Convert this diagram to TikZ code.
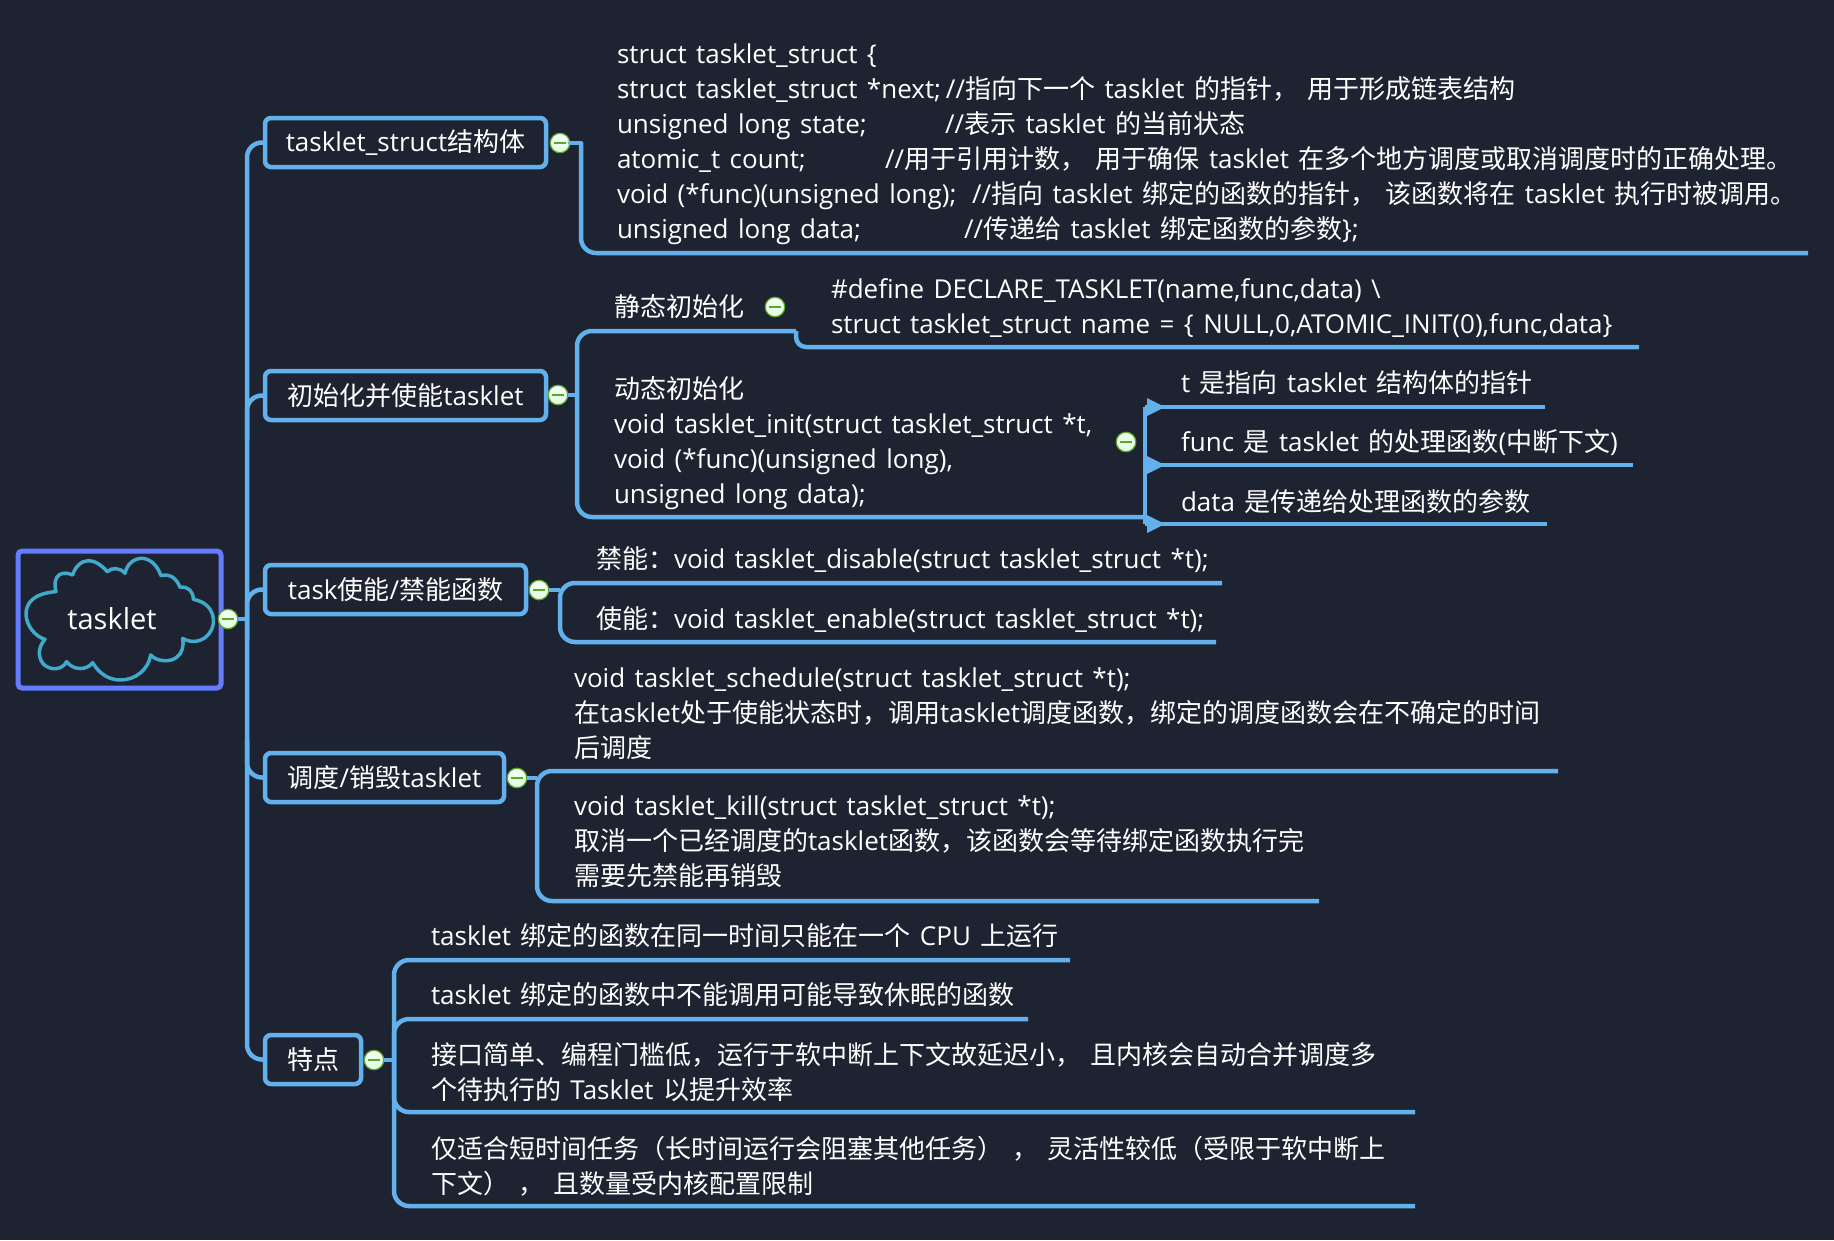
\documentclass[tikz,border=0pt]{standalone}
\usepackage{fontspec}
\setmainfont[WordSpace=1.4]{Open Sans}
\newfontfamily\cjkf{Noto Sans CJK SC}
\usetikzlibrary{arrows.meta}
\makeatletter
\XeTeXinterchartokenstate=1
\newXeTeXintercharclass\cjkclass
\count@="3000
\loop\ifnum\count@<"3020 \XeTeXcharclass\count@=\cjkclass \advance\count@ by 1 \repeat
\count@="4E00
\loop\ifnum\count@<"A000 \XeTeXcharclass\count@=\cjkclass \advance\count@ by 1 \repeat
\count@="FF00
\loop\ifnum\count@<"FF60 \XeTeXcharclass\count@=\cjkclass \advance\count@ by 1 \repeat
\makeatother
\XeTeXinterchartoks 0 \cjkclass={\cjkf}
\XeTeXinterchartoks 4095 \cjkclass={\cjkf}
\XeTeXinterchartoks \cjkclass 0={\normalfont}
\XeTeXinterchartoks \cjkclass 4095={\normalfont}
\definecolor{bgc}{HTML}{1D2330}
\definecolor{linec}{HTML}{63B1EC}
\definecolor{rootc}{HTML}{647CFF}
\definecolor{cloudc}{HTML}{41A9C9}
\definecolor{greenc}{HTML}{5EA52A}
\newcommand{\tab}[2]{\makebox[#1pt][l]{#2}}
\tikzset{
  x=1pt,y=-1pt,
  every node/.style={inner sep=0pt,outer sep=0pt,text=white},
  txt/.style={font=\fontsize{26}{35}\selectfont,align=left,anchor=west},
  branchbox/.style={draw=linec,line width=4.5pt,rounded corners=6pt,fill=bgc,anchor=north west,
     font=\fontsize{26}{32}\selectfont},
  boxlabel/.style={font=\fontsize{26}{32}\selectfont,anchor=center},
  wire/.style={draw=linec,line width=4.5pt},
  conn/.style={draw=linec,line width=4.5pt,rounded corners=15pt},
  collapse/.style={circle,minimum size=19.5pt,draw=greenc,line width=1.2pt,top color=white!95!green,bottom color=black!5!green!12!white,
     path picture={\draw[greenc,line width=1.2pt] ([xshift=-6pt]path picture bounding box.center)--([xshift=6pt]path picture bounding box.center);}},
  tip/.style={fill=linec,draw=none},
}
\begin{document}
\begin{tikzpicture}
\useasboundingbox (0,0) rectangle (1834,1240);
\fill[bgc] (0,0) rectangle (1834,1240);
% root
\node[draw=rootc,line width=5pt,rounded corners=4pt,minimum width=203pt,minimum height=137pt,anchor=north west] (root) at (18,551) {};
\begin{scope}[shift={(0,440)},x=0.3333pt,y=-0.3333pt]
\draw[cloudc,line width=3.5pt,fill=bgc,line join=round]
 (168,455) .. controls (100,460) and (78,490) .. (78,522)
 .. controls (78,555) and (105,590) .. (135,598)
 .. controls (115,620) and (112,650) .. (130,672)
 .. controls (150,692) and (185,692) .. (200,665)
 .. controls (220,692) and (260,692) .. (278,668)
 .. controls (300,705) and (330,720) .. (362,720)
 .. controls (405,720) and (445,690) .. (452,645)
 .. controls (470,665) and (510,668) .. (530,652)
 .. controls (548,640) and (552,615) .. (548,595)
 .. controls (575,612) and (610,605) .. (628,580)
 .. controls (652,550) and (645,490) .. (580,478)
 .. controls (580,455) and (565,438) .. (540,442)
 .. controls (530,415) and (510,400) .. (483,407)
 .. controls (470,370) and (445,355) .. (425,355)
 .. controls (400,355) and (380,375) .. (375,400)
 .. controls (360,382) and (335,382) .. (322,395)
 .. controls (300,370) and (280,362) .. (265,362)
 .. controls (245,362) and (225,380) .. (218,405)
 .. controls (190,392) and (155,400) .. (168,455) -- cycle;
\end{scope}
\node[font=\fontsize{29}{32}\selectfont] (rootlabel) at (112,619) {tasklet};
\node[collapse] (c0) at (228,619) {};
\coordinate (trunk) at (247,619);
% branch boxes
\node[branchbox,minimum width=281pt,minimum height=49pt] (b1) at (265,118) {};
\node[boxlabel] (b1t) at (b1.center) {tasklet\_struct结构体};
\node[branchbox,minimum width=281pt,minimum height=49pt] (b2) at (265,371) {};
\node[boxlabel] (b2t) at (b2.center) {初始化并使能tasklet};
\node[branchbox,minimum width=261pt,minimum height=49pt] (b3) at (265,565) {};
\node[boxlabel] (b3t) at (b3.center) {task使能/禁能函数};
\node[branchbox,minimum width=239pt,minimum height=49pt] (b4) at (265,753) {};
\node[boxlabel] (b4t) at (b4.center) {调度/销毁tasklet};
\node[branchbox,minimum width=96pt,minimum height=49pt] (b5) at (265,1035) {};
\node[boxlabel] (b5t) at (b5.center) {特点};
\node[collapse] (c1) at (560,143) {};
\node[collapse] (c2) at (558,395) {};
\node[collapse] (c3) at (539,590) {};
\node[collapse] (c4) at (517,778) {};
\node[collapse] (c5) at (374,1060) {};
\node[collapse] (c6) at (1126,442) {};
\node[collapse] (c7) at (775,307) {};
% trunk
\draw[wire] (c0.east) -- (trunk);
\draw[conn] (b1.west) -| (trunk) |- (b5.west);
\draw[conn] (b2.west) -| (247,440);
\draw[conn] (b3.west) -| (247,640);
\draw[conn] (b4.west) -| (247,740);
% branch 1
\coordinate (e1) at (1808,253);
\coordinate (k1) at (581,143);
\draw[wire,line cap=round] (c1.east) -- (k1);
\draw[conn] (k1) |- (e1);
% branch 2
\coordinate (e21) at (796,331);
\coordinate (e22) at (1639,347);
\coordinate (e23) at (1144,517);
\coordinate (j2) at (577,395);
\draw[wire] (c2.east) -- (j2);
\draw[conn] (e21) -- (577,331) -- (577,517) -- (e23);
\draw[wire,rounded corners=10pt] (e21) -- (e21 |- e22) -- (e22);
% sub list
\coordinate (s1) at (1545,407);
\coordinate (s2) at (1633,465);
\coordinate (s3) at (1547,524);
\coordinate (s0) at (1145,407);
\coordinate (sm) at (1145,465);
\coordinate (sb) at (1145,524);
\draw[wire] (s0) -- (sb);
\draw[wire] (s0) -- (s1);
\draw[wire] (sm) -- (s2);
\draw[wire] (sb) -- (s3);
\foreach \yy in {407,465,524}{\fill[tip] (1147,\yy-9) -- (1165,\yy) -- (1147,\yy+9) -- cycle;}
% branch 3
\coordinate (e31) at (1222,583);
\coordinate (e32) at (1216,642);
\draw[wire] (c3.east) -- (560,590);
\draw[conn] (e31) -- (560,583) -- (560,642) -- (e32);
% branch 4
\coordinate (e41) at (1558,771);
\coordinate (e42) at (1319,901);
\draw[wire] (c4.east) -- (537,778);
\draw[conn] (e41) -- (537,771) -- (537,901) -- (e42);
% branch 5
\coordinate (e51) at (1070,960);
\coordinate (e52) at (1028,1019);
\coordinate (e53) at (1415,1112);
\coordinate (e54) at (1415,1206);
\draw[wire] (c5.east) -- (394,1060);
\draw[conn] (e51) -- (394,960) -- (394,1206) -- (e54);
\draw[conn] (e52) -- (394,1019) -- (394,1112) -- (e53);
% texts
\node[txt] (t1) at (617,144) {struct tasklet\_struct \{\\
\tab{329}{struct tasklet\_struct *next;}//指向下一个 tasklet 的指针， 用于形成链表结构\\
\tab{328}{unsigned long state;}//表示 tasklet 的当前状态\\
\tab{268}{atomic\_t count;}//用于引用计数， 用于确保 tasklet 在多个地方调度或取消调度时的正确处理。\\
\tab{355}{void (*func)(unsigned long);}//指向 tasklet 绑定的函数的指针， 该函数将在 tasklet 执行时被调用。\\
\tab{347}{unsigned long data;}//传递给 tasklet 绑定函数的参数\};};
\node[txt] (t2) at (831,308) {\#define DECLARE\_TASKLET(name,func,data) \textbackslash\\
struct tasklet\_struct name = \{ NULL,0,ATOMIC\_INIT(0),func,data\}};
\node[txt] (t2a) at (614,307) {静态初始化};
\node[txt] (t3) at (614,443) {动态初始化\\
void tasklet\_init(struct tasklet\_struct *t,\\
void (*func)(unsigned long),\\
unsigned long data);};
\node[txt] (t4) at (1181,383) {t 是指向 tasklet 结构体的指针};
\node[txt] (t5) at (1181,443) {func 是 tasklet 的处理函数(中断下文)};
\node[txt] (t6) at (1181,502) {data 是传递给处理函数的参数};
\node[txt] (t7) at (596,560) {禁能：void tasklet\_disable(struct tasklet\_struct *t);};
\node[txt] (t8) at (596,620) {使能：void tasklet\_enable(struct tasklet\_struct *t);};
\node[txt] (t9) at (574,714) {void tasklet\_schedule(struct tasklet\_struct *t);\\
在tasklet处于使能状态时，调用tasklet调度函数，绑定的调度函数会在不确定的时间\\
后调度};
\node[txt] (t10) at (574,842) {void tasklet\_kill(struct tasklet\_struct *t);\\
取消一个已经调度的tasklet函数，该函数会等待绑定函数执行完\\
需要先禁能再销毁};
\node[txt] (t11) at (431,936) {tasklet 绑定的函数在同一时间只能在一个 CPU 上运行};
\node[txt] (t12) at (431,995) {tasklet 绑定的函数中不能调用可能导致休眠的函数};
\node[txt] (t13) at (431,1072) {接口简单、编程门槛低，运行于软中断上下文故延迟小， 且内核会自动合并调度多\\
个待执行的 Tasklet 以提升效率};
\node[txt] (t14) at (431,1166) {仅适合短时间任务（长时间运行会阻塞其他任务） ， 灵活性较低（受限于软中断上\\
下文） ， 且数量受内核配置限制};
\end{tikzpicture}
\end{document}
